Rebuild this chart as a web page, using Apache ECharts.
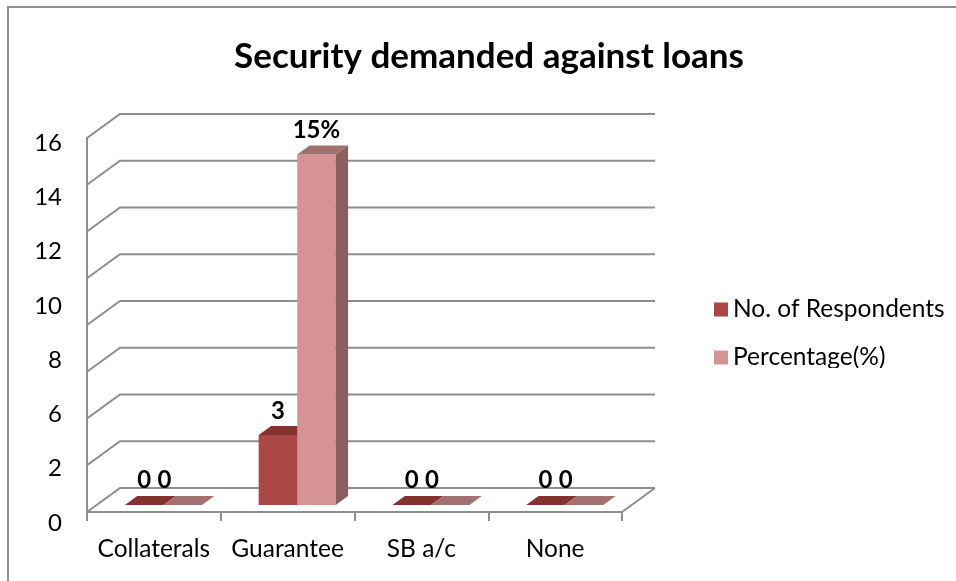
<!DOCTYPE html>
<html><head><meta charset="utf-8">
<script src="https://cdn.jsdelivr.net/npm/echarts@6/dist/echarts.min.js"></script>
<style>html,body{margin:0;padding:0;background:#fff}#c{width:956px;height:581px}</style>
</head><body><div id="c"></div>
<script>
// ---- data ----
const titleText = 'Security demanded against loans';
const categories = ['Collaterals', 'Guarantee', 'SB a/c', 'None'];
const seriesNames = ['No. of Respondents', 'Percentage(%)'];
const respondents = [0, 3, 0, 0];
const percentage = [0, 15, 0, 0];
const gridTicks = [0, 2, 4, 6, 8, 10, 12, 14, 16];
const yTickLabels = ['0', '2', '6', '8', '10', '12', '14', '16'];

// ---- style / geometry ----
const FONT = 'Lato, Carlito, "Open Sans", sans-serif';
const DEPTH = [33, -24];
const F0 = 0.29, F1 = 0.665;
const BAR_W = 0.288;
const GRID_COLOR = '#8e8e8e';
const palettes = [
  { front: '#AA4644', top: '#843230', side: '#6e2a28' },
  { front: '#D59493', top: '#A27270', side: '#8A5F5E' }
];

function barRenderer(s) {
  const pal = palettes[s];
  return function (params, api) {
    const ci = api.value(0), v = api.value(1);
    const base = api.coord([ci, 0]);
    const topP = api.coord([ci, v]);
    const band = api.size([1, 0])[0];
    const w = band * BAR_W;
    const x0 = base[0] - w + s * w + DEPTH[0] * F0;
    const x1 = x0 + w;
    const yb = base[1] + DEPTH[1] * F0;
    const yt = topP[1] + DEPTH[1] * F0;
    const dx = DEPTH[0] * (F1 - F0), dy = DEPTH[1] * (F1 - F0);
    const children = [];
    if (v > 0) {
      children.push({ type: 'rect', shape: { x: x0, y: yt, width: w, height: yb - yt }, style: { fill: pal.front } });
      children.push({ type: 'polygon', shape: { points: [[x1, yt], [x1 + dx, yt + dy], [x1 + dx, yb + dy], [x1, yb]] }, style: { fill: pal.side } });
    }
    children.push({ type: 'polygon', shape: { points: [[x0, yt], [x1, yt], [x1 + dx, yt + dy], [x0 + dx, yt + dy]] }, style: { fill: pal.top } });
    const txt = v > 0 ? (s === 1 ? v + '%' : String(v)) : '0';
    let lx = x0 + w / 2, ly = yt - 24;
    if (v === 0) { lx = s === 1 ? x0 + 1 : x0 + w / 2; ly = yb - 25; }
    children.push({ type: 'text', z2: 10, style: { text: txt, x: lx, y: ly, align: 'center', verticalAlign: 'middle', font: 'bold 24px ' + FONT, fill: '#000' } });
    return { type: 'group', children: children };
  };
}

function gridRenderer(params, api) {
  const v = api.value(1);
  const y = api.coord([0, v])[1];
  const cs = params.coordSys;
  const children = [{
    type: 'polyline',
    shape: { points: [[cs.x, y], [cs.x + DEPTH[0], y + DEPTH[1]], [cs.x + cs.width + DEPTH[0], y + DEPTH[1]]] },
    style: { stroke: GRID_COLOR, lineWidth: 2, fill: null }
  }];
  if (v === 0) {
    children.push({ type: 'line', shape: { x1: cs.x + cs.width, y1: y, x2: cs.x + cs.width + DEPTH[0], y2: y + DEPTH[1] }, style: { stroke: GRID_COLOR, lineWidth: 2 } });
  }
  return { type: 'group', children: children };
}

const chart = echarts.init(document.getElementById('c'), null, { renderer: 'canvas' });
chart.setOption({
  backgroundColor: '#fff',
  animation: false,
  title: {
    text: titleText, left: 484, top: 34, textAlign: 'center',
    textStyle: { fontFamily: FONT, fontWeight: 'bold', fontSize: 35, color: '#000' }
  },
  legend: {
    orient: 'vertical', left: 709, top: 292, itemWidth: 14, itemHeight: 14, itemGap: 23,
    icon: 'rect', data: seriesNames,
    textStyle: { fontFamily: FONT, fontSize: 24.5, color: '#000', padding: [0, 0, 0, 0] },
    itemStyle: { borderWidth: 0 }
  },
  grid: [
    { left: 87, top: 138, width: 535, height: 374 },
    { left: 87, top: 143, width: 535, height: 380 }
  ],
  xAxis: [
    {
      type: 'category', gridIndex: 0, data: categories,
      axisLine: { show: true, lineStyle: { color: GRID_COLOR, width: 2 } },
      axisTick: { show: true, length: 9, interval: 0, lineStyle: { color: GRID_COLOR, width: 2 } },
      axisLabel: { margin: 25, fontFamily: FONT, fontSize: 24.5, color: '#000', interval: 0 },
      splitLine: { show: false }
    },
    { type: 'value', gridIndex: 1, show: false }
  ],
  yAxis: [
    {
      type: 'value', gridIndex: 0, min: 0, max: 16, interval: 2,
      axisLine: { show: true, lineStyle: { color: GRID_COLOR, width: 2 } },
      axisTick: { show: false }, axisLabel: { show: false }, splitLine: { show: false }
    },
    {
      type: 'category', gridIndex: 1, data: yTickLabels, boundaryGap: false,
      axisLine: { show: false }, axisTick: { show: false }, splitLine: { show: false },
      axisLabel: { margin: 25, fontFamily: FONT, fontSize: 24, color: '#000', interval: 0 }
    }
  ],
  series: [
    {
      type: 'custom', name: 'grid', xAxisIndex: 0, yAxisIndex: 0, silent: true, z: 1,
      renderItem: gridRenderer, data: gridTicks.map(v => [0, v])
    },
    {
      type: 'custom', name: seriesNames[0], xAxisIndex: 0, yAxisIndex: 0, z: 3,
      itemStyle: { color: palettes[0].front },
      renderItem: barRenderer(0), data: respondents.map((v, i) => [i, v])
    },
    {
      type: 'custom', name: seriesNames[1], xAxisIndex: 0, yAxisIndex: 0, z: 4,
      itemStyle: { color: palettes[1].front },
      renderItem: barRenderer(1), data: percentage.map((v, i) => [i, v])
    }
  ],
  graphic: [
    { type: 'line', z: 100, shape: { x1: 8, y1: 7, x2: 956, y2: 7 }, style: { stroke: '#8f8f8f', lineWidth: 2 } },
    { type: 'line', z: 100, shape: { x1: 8, y1: 6, x2: 8, y2: 581 }, style: { stroke: '#8f8f8f', lineWidth: 2 } },
    { type: 'rect', z: 100, shape: { x: 725, y: 368, width: 225, height: 30 }, style: { fill: '#fff' } }
  ]
});
</script>
</body></html>
